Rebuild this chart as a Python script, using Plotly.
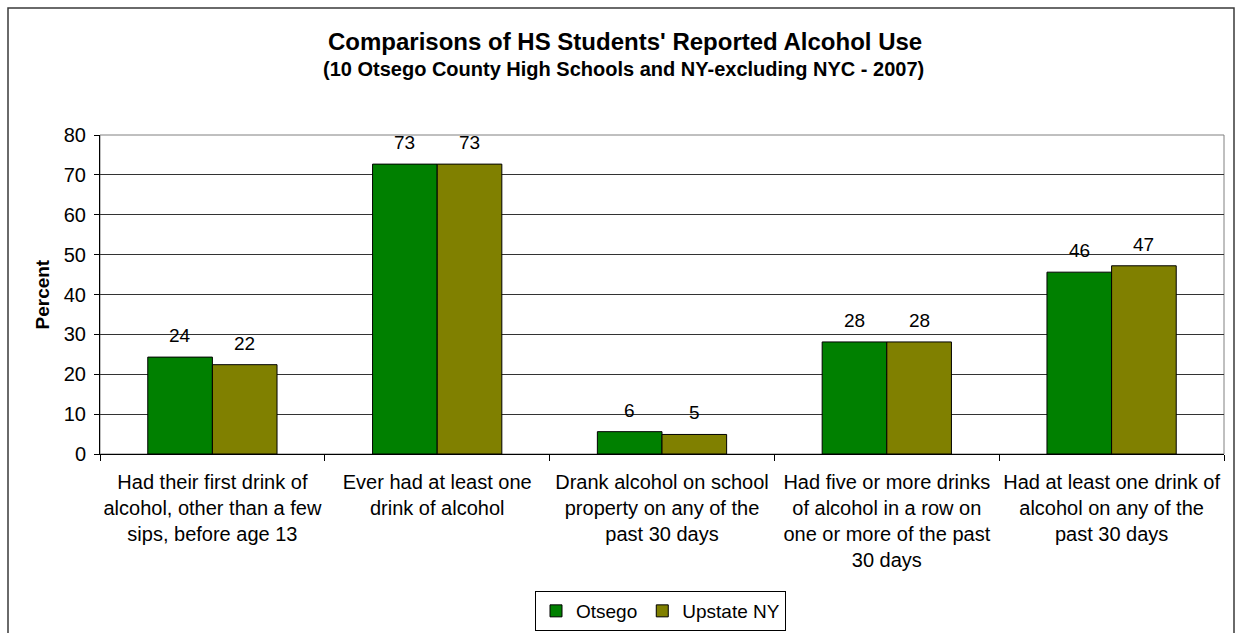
import plotly.graph_objects as go

# Survey items (x categories) and percentages for each group
categories = [
    "Had their first drink of<br>alcohol, other than a few<br>sips, before age 13",
    "Ever had at least one<br>drink of alcohol",
    "Drank alcohol on school<br>property on any of the<br>past 30 days",
    "Had five or more drinks<br>of alcohol in a row on<br>one or more of the past<br>30 days",
    "Had at least one drink of<br>alcohol on any of the<br>past 30 days",
]
otsego = [24.3, 72.7, 5.6, 28.1, 45.6]
upstate_ny = [22.4, 72.7, 4.9, 28.1, 47.2]
series_names = ["Otsego", "Upstate NY"]
y_ticks = [0, 10, 20, 30, 40, 50, 60, 70, 80]

FONT = "Liberation Sans, Arial, sans-serif"
W, H = 1238, 633
L, R, T, B = 100, 14, 135, 179
plot_w = W - L - R
plot_h = H - T - B


def px_x(px):
    return (px - L) / plot_w


def px_y(py):
    return (H - B - py) / plot_h


fig = go.Figure()
for name, vals, color in [
    (series_names[0], otsego, "#008000"),
    (series_names[1], upstate_ny, "#808000"),
]:
    fig.add_trace(go.Bar(
        name=name,
        x=categories,
        y=vals,
        marker=dict(color=color, line=dict(color="black", width=1)),
    ))

# value labels above each bar, rounded from the bar values
bar_half = 0.575 * plot_w / len(categories) / 4
annotations = []
for vals, shift in [(otsego, -bar_half), (upstate_ny, bar_half)]:
    for cat, v in zip(categories, vals):
        annotations.append(dict(
            x=cat, y=v, xref="x", yref="y", text=f"{round(v)}",
            showarrow=False, xanchor="center", yanchor="middle",
            xshift=shift, yshift=21.5,
            font=dict(family=FONT, size=19, color="black"),
        ))

# titles
annotations += [
    dict(x=px_x(625), y=px_y(42), xref="paper", yref="paper",
         text="<b>Comparisons of HS Students' Reported Alcohol Use</b>",
         showarrow=False, xanchor="center", yanchor="middle",
         font=dict(family=FONT, size=24, color="black")),
    dict(x=px_x(623), y=px_y(69), xref="paper", yref="paper",
         text="<b>(10 Otsego County High Schools and NY-excluding NYC - 2007)</b>",
         showarrow=False, xanchor="center", yanchor="middle",
         font=dict(family=FONT, size=20, color="black")),
    dict(x=px_x(42), y=0.5, xref="paper", yref="paper",
         text="<b>Percent</b>", textangle=-90,
         showarrow=False, xanchor="center", yanchor="middle",
         font=dict(family=FONT, size=19, color="black")),
]

shapes = [
    # plot area frame
    dict(type="rect", xref="paper", yref="paper", x0=0, x1=1, y0=0, y1=1,
         line=dict(color="#808080", width=1), layer="below"),
    # outer chart frame
    dict(type="rect", xref="paper", yref="paper",
         x0=px_x(8), x1=px_x(1234), y0=px_y(660), y1=px_y(8),
         line=dict(color="#3a3a3a", width=1.5), layer="below"),
]

fig.update_layout(
    width=W, height=H,
    margin=dict(l=L, r=R, t=T, b=B, pad=0, autoexpand=False),
    paper_bgcolor="white", plot_bgcolor="white",
    barmode="group", bargap=0.425, bargroupgap=0,
    font=dict(family=FONT, size=19, color="black"),
    annotations=annotations,
    shapes=shapes,
    legend=dict(
        orientation="h", x=px_x(660.5), y=px_y(631),
        xanchor="center", yanchor="bottom",
        bordercolor="black", borderwidth=1, bgcolor="white",
        font=dict(family=FONT, size=19, color="black"),
        itemwidth=30, tracegroupgap=0,
    ),
    showlegend=True,
)

fig.update_xaxes(
    type="category", tickson="boundaries", ticks="outside", ticklen=6,
    tickcolor="black", showline=True, linecolor="black", linewidth=1,
    showgrid=False, automargin=False, ticklabelstandoff=10, tickangle=0,
    tickfont=dict(family=FONT, size=20, color="black"),
)
fig.update_yaxes(
    range=[0, 80], tickvals=y_ticks, ticks="outside", ticklen=5,
    tickcolor="black", showline=True, linecolor="black", linewidth=1,
    showgrid=True, gridcolor="#333333", gridwidth=1, zeroline=False,
    automargin=False, ticklabelstandoff=4,
    tickfont=dict(family=FONT, size=20, color="black"),
)

fig.write_html("out.html")
